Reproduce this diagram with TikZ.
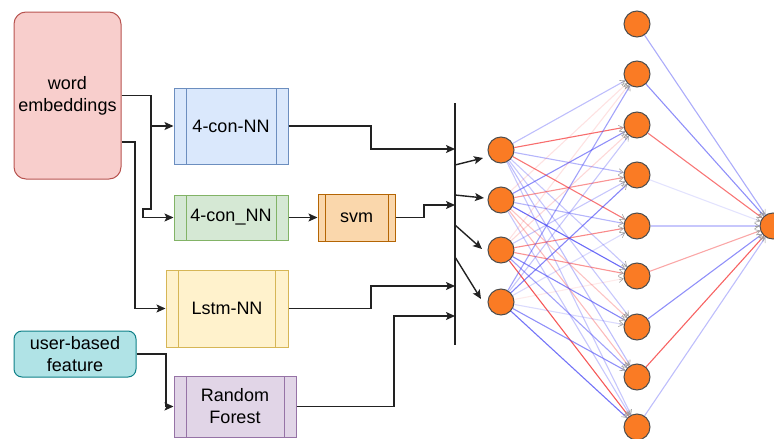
\documentclass[tikz,border=0pt]{standalone}
\usepackage{fontspec}
\setmainfont{Liberation Sans}
\usetikzlibrary{arrows.meta,calc}

\definecolor{weFill}{HTML}{F8CECC}\definecolor{weLine}{HTML}{B85450}
\definecolor{bFill}{HTML}{DAE8FC}\definecolor{bLine}{HTML}{6C8EBF}
\definecolor{gFill}{HTML}{D5E8D4}\definecolor{gLine}{HTML}{82B366}
\definecolor{oFill}{HTML}{FAD7AC}\definecolor{oLine}{HTML}{B46504}
\definecolor{yFill}{HTML}{FFF2CC}\definecolor{yLine}{HTML}{D6B656}
\definecolor{pFill}{HTML}{E1D5E7}\definecolor{pLine}{HTML}{9673A6}
\definecolor{tFill}{HTML}{B0E3E6}\definecolor{tLine}{HTML}{0E8088}
\definecolor{neuron}{RGB}{250,123,36}
\definecolor{neuronLine}{HTML}{4D4D4D}
\definecolor{eb}{RGB}{70,70,245}
\definecolor{er}{RGB}{245,60,60}
\definecolor{wire}{HTML}{222222}

\begin{document}
\begin{tikzpicture}[x=1pt,y=-1pt,
  font=\fontsize{18}{22}\selectfont,
  roundbox/.style n args={3}{draw=#2, fill=#1, line width=1pt, rounded corners=#3,
    align=center, inner sep=0pt},
  procbox/.style n args={3}{draw=#2, fill=#1, line width=1pt, align=center, inner sep=0pt,
    path picture={\draw[#2, line width=1pt]
      ([xshift=#3]path picture bounding box.north west) -- ([xshift=#3]path picture bounding box.south west)
      ([xshift=-#3]path picture bounding box.north east) -- ([xshift=-#3]path picture bounding box.south east);}},
  conn/.style={draw=wire, line width=1.4pt, -{Stealth[length=9pt,width=8pt,inset=2pt]}},
  bus/.style={draw=wire, line width=1.4pt},
  unit/.style={circle, minimum size=26pt, inner sep=0pt, fill=neuron, draw=neuronLine, line width=1pt},
  weight/.style={line width=1.1pt},
  tipgray/.style={draw=gray!75, line width=0.6pt, -{Straight Barb[length=4.5pt,width=6pt]}}
]
\useasboundingbox (0,0) rectangle (774,439);

% input sources
\node[roundbox={weFill}{weLine}{12pt}, minimum width=107pt, minimum height=167pt] (we) at (67.5,95.5) {word\\embeddings};
\node[roundbox={tFill}{tLine}{8pt}, minimum width=122pt, minimum height=46pt] (ubf) at (75,354) {user-based\\feature};

% models
\node[procbox={bFill}{bLine}{12pt}, minimum width=114pt, minimum height=76pt] (cnn1) at (231,126) {4-con-NN};
\node[procbox={gFill}{gLine}{12pt}, minimum width=114pt, minimum height=45pt] (cnn2) at (231,217.5) {4-con\_NN};
\node[procbox={oFill}{oLine}{7pt}, minimum width=77pt, minimum height=47pt] (svm) at (356.5,217.5) {svm};
\node[procbox={yFill}{yLine}{12.5pt}, minimum width=122pt, minimum height=77pt] (lstm) at (227,308.5) {Lstm-NN};
\node[procbox={pFill}{pLine}{12pt}, minimum width=122pt, minimum height=61pt] (rf) at (235,406.5) {Random\\Forest};

% collecting bar
\coordinate (bt) at (455,103);
\coordinate (bb) at (455,345);
\draw[bus] (bt) -- (bb);
\coordinate (b1) at (455,149);
\coordinate (b2) at (455,205);
\coordinate (b3) at (455,286);
\coordinate (b4) at (455,316);

% wiring from the sources
\coordinate (we2) at ($(we.east)+(0,46.5)$);
\draw[conn] (we.east) -- (151,95.5) |- (cnn1.west);
\draw[conn] (we.east) -- (151,95.5) -- (151,209) -- (143,209) |- (cnn2.west);
\draw[conn] (we2) -- (135,142) |- (lstm.west);
\draw[conn] (ubf.east) -- (166,354) |- (rf.west);
\draw[conn] (cnn2) -- (svm);

% wiring into the bar
\draw[conn] (cnn1.east) -- (371,126) |- (b1);
\draw[conn] (svm.east) -- (424,217.5) |- (b2);
\draw[conn] (lstm.east) -- (371,308.5) |- (b3);
\draw[conn] (rf.east) -- (394,406.5) |- (b4);

% bar outputs
\coordinate (s1) at (455,165); \coordinate (e1) at (483,158);
\coordinate (s2) at (455,195); \coordinate (e2) at (484,198);
\coordinate (s3) at (455,225); \coordinate (e3) at (482,249);
\coordinate (s4) at (455,257); \coordinate (e4) at (481,299);
\foreach \k in {1,2,3,4} \draw[conn] (s\k) -- (e\k);

% network units
\foreach \k/\y in {1/150,2/200,3/250,4/302}
  \node[unit] (i\k) at (501,\y) {};
\foreach \k/\y in {1/24,2/74,3/125,4/175,5/226,6/276,7/327,8/377,9/427}
  \node[unit] (h\k) at (637,\y) {};
\node[unit] (out) at (773,226) {};

% input -> hidden weights
\foreach \i/\h/\c/\o in {
  1/2/eb/0.35, 1/3/er/0.75, 1/4/eb/0.4, 1/5/er/0.7, 1/6/eb/0.3, 1/7/eb/0.3, 1/8/eb/0.35, 1/9/eb/0.3,
  2/2/er/0.15, 2/3/eb/0.6, 2/4/er/0.55, 2/5/eb/0.4, 2/6/eb/0.8, 2/7/er/0.3, 2/8/er/0.35, 2/9/eb/0.3,
  3/2/er/0.15, 3/3/er/0.2, 3/4/eb/0.3, 3/5/er/0.6, 3/6/er/0.55, 3/7/eb/0.65, 3/8/eb/0.5, 3/9/er/0.85,
  4/2/eb/0.5, 4/3/eb/0.3, 4/4/eb/0.65, 4/5/eb/0.2, 4/6/er/0.1, 4/7/eb/0.2, 4/8/eb/0.6, 4/9/eb/0.75}
{
  \draw[weight, draw=\c, draw opacity=\o] (i\i) -- (h\h);
  \draw[tipgray] ($(h\h.center)!18pt!(i\i.center)$) -- (h\h);
}

% hidden -> output weights
\foreach \h/\c/\o in {1/eb/0.45, 2/eb/0.6, 3/er/0.7, 4/eb/0.15, 5/eb/0.3, 6/er/0.45, 7/eb/0.6, 8/er/0.8, 9/eb/0.35}
{
  \draw[weight, draw=\c, draw opacity=\o] (h\h) -- (out);
  \draw[tipgray] ($(out.center)!18pt!(h\h.center)$) -- (out);
}
\end{tikzpicture}
\end{document}
